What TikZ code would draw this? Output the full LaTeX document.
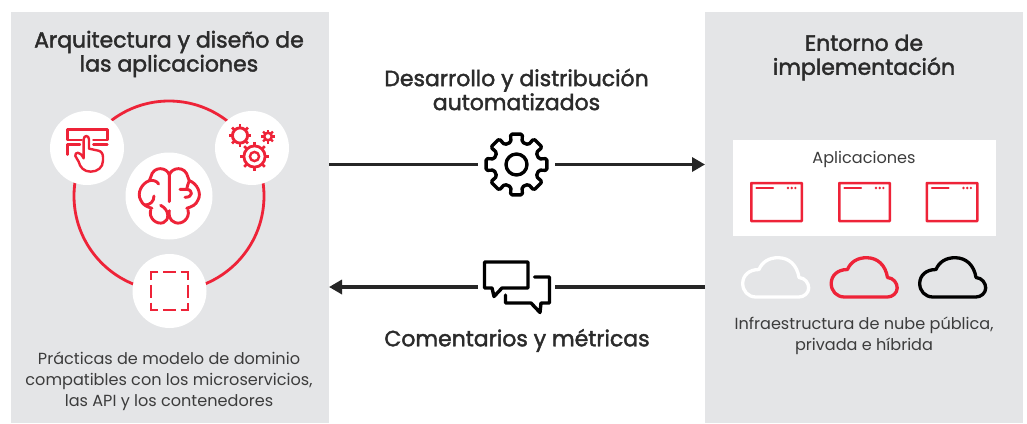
\documentclass[tikz,border=0pt]{standalone}
\usepackage{fontspec}
\usetikzlibrary{arrows.meta,calc}
\setmainfont{Poppins}
\newfontfamily\headf[FakeBold=1.9]{Poppins}
\definecolor{rhred}{HTML}{EE2338}
\definecolor{panelgray}{HTML}{E4E5E7}
\definecolor{headink}{HTML}{2B2B2B}
\definecolor{bodyink}{HTML}{3C3C3C}
\tikzset{
  panel/.style={fill=panelgray,draw=none,minimum width=318pt,minimum height=411pt,inner sep=0pt,outer sep=0pt},
  disc/.style={circle,fill=white,draw=none,inner sep=0pt,outer sep=0pt},
  hub/.style={circle,draw=none,fill=none,minimum size=77pt,inner sep=0pt,outer sep=0pt},
  head/.style={text=headink,align=center,inner sep=0pt,font=\headf\fontsize{22}{24}\selectfont},
  body/.style={text=bodyink,align=center,inner sep=0pt,font=\fontsize{16.1}{21}\selectfont},
  flow/.style={line width=3.4pt,draw=black!85},
  flowtip/.style={flow,-{Triangle[length=13pt,width=14pt]}},
  redicon/.style={draw=rhred,line width=2.4pt,line cap=round,line join=round,fill=none},
  blackicon/.style={draw=black,line width=3.4pt,line cap=round,line join=round,fill=none},
  winbox/.style={draw=rhred,line width=2.5pt,fill=white,minimum width=50.5pt,minimum height=38pt,inner sep=0pt,rounded corners=0.4pt},
  cloud/.pic={
    \draw[line width=3.3pt,line join=round,draw=#1] (15,41) .. controls (7,41) and (1.7,35) .. (1.7,27.5)
      .. controls (1.7,19.5) and (8,13.5) .. (18,13.5)
      .. controls (21,6) and (28,1.7) .. (37,1.7)
      .. controls (48,1.7) and (56,9) .. (58,21.5)
      .. controls (64,22) and (67.7,27) .. (67.7,32)
      .. controls (67.7,37) and (63,41) .. (58,41) -- cycle;
  },
  winmarks/.pic={
    \draw[rhred,line width=2.4pt,line cap=round] (-20,-14) -- (-3.5,-14);
    \fill[rhred] (11.5,-14) circle (1.3) (15.2,-14) circle (1.3) (18.9,-14) circle (1.3);
  }
}
\begin{document}
\begin{tikzpicture}[x=1pt,y=-1pt]
\useasboundingbox (0,0) rectangle (1027,423);
\fill[white] (0,0) rectangle (1027,423);

\node[panel,anchor=north west] (lp) at (11,12) {};
\node[panel,anchor=north west] (rp) at (705,12) {};

\node[head] (lt) at (169,54) {Arquitectura y diseño de\\las aplicaciones};
\node[head] (rt) at (864,57.5) {Entorno de\\implementación};
\node[head] (dt) at (516.5,89.5) {Desarrollo y distribución\\automatizados};
\node[head] (ct) at (517,340.5) {Comentarios y métricas};

% ring and discs
\coordinate (ringc) at (169,196);
\draw[rhred,line width=2.8pt] (ringc) circle (95);
\node[disc,minimum size=74pt] (d1) at (87,148) {};
\node[disc,minimum size=74pt] (d2) at (252,148) {};
\node[disc,minimum size=87pt] (d3) at (ringc) {};
\node[disc,minimum size=74pt] (d4) at (169.5,291) {};

% touch icon (zoom coordinates: origin 30,90, scale 1/3)
\begin{scope}[shift={(30,90)},x=0.3333pt,y=-0.3333pt]
  \begin{scope}[redicon]
  \draw (155,150) -- (112,150) -- (112,118) -- (232,118) -- (232,150) -- (190,150);
  \draw (150,163) -- (112,163) -- (112,194);
  \draw (190,163) -- (232,163);
  \draw (161,205) -- (161,148) .. controls (161,135) and (177,135) .. (177,148) -- (177,176)
    -- (205,182) .. controls (215,184) and (219,192) .. (219,202) -- (219,212)
    .. controls (219,232) and (203,245) .. (182,245) .. controls (162,245) and (150,232) .. (146,215)
    -- (136,198) .. controls (134,186) and (150,182) .. (161,205);
  \end{scope}
  % brain
  \begin{scope}[redicon,line width=2.9pt]
    \draw (418,335) -- (418,255) .. controls (412,232) and (370,225) .. (362,262) -- (358,272)
       .. controls (335,280) and (320,310) .. (332,330) .. controls (338,345) and (350,350) .. (366,355);
    \draw (362,360) .. controls (355,385) and (380,405) .. (400,398) .. controls (418,392) and (420,360) .. (392,346);
    \draw (358,272) .. controls (368,270) and (380,272) .. (386,282);
    \draw (372,318) .. controls (372,335) and (360,345) .. (345,345);
    \draw (418,255) .. controls (424,232) and (466,225) .. (474,262) -- (478,272)
       .. controls (501,280) and (516,310) .. (504,330) .. controls (498,345) and (486,350) .. (470,355);
    \draw (474,360) .. controls (481,385) and (456,405) .. (436,398) .. controls (418,392) and (416,375) .. (418,362);
    \draw (450,298) -- (470,298) .. controls (490,300) and (490,322) .. (465,322);
    \draw (478,272) .. controls (474,280) and (472,290) .. (470,298);
  \end{scope}
  % dashed square
  \begin{scope}[rhred,line width=2.1pt]
    \draw (385,546) -- (363,546) -- (363,570);
    \draw (400,546) -- (437,546);
    \draw (452,546) -- (474,546) -- (474,570);
    \draw (363,585) -- (363,625);
    \draw (474,585) -- (474,625);
    \draw (363,638) -- (363,660) -- (385,660);
    \draw (400,660) -- (437,660);
    \draw (452,660) -- (474,660) -- (474,638);
  \end{scope}
\end{scope}

% small gears
\draw[rhred,line width=2.9pt] (240,135.5) circle (7.6);
\foreach \ang in {0,45,...,315} \draw[rhred,line width=2.6pt] (240,135.5) ++(\ang:8) -- ++(\ang:3.2);
\draw[rhred,line width=2.6pt] (268,136.5) circle (3.8);
\foreach \ang in {0,45,...,315} \draw[rhred,line width=2.2pt] (268,136.5) ++(\ang:4) -- ++(\ang:3);
\draw[rhred,line width=2.8pt] (254.5,156.5) circle (10.6);
\draw[rhred,line width=2.4pt] (254.5,156.5) circle (4.6);
\foreach \ang in {0,45,...,315} \draw[rhred,line width=2.6pt] (254.5,156.5) ++(\ang:11) -- ++(\ang:3.6);

% hubs on the arrows
\node[hub] (gearhub) at (516.5,164.5) {};
\node[hub] (chathub) at (516.5,287) {};
\draw[flow] (lp.east |- gearhub) -- (gearhub);
\draw[flowtip] (gearhub) -- (rp.west |- gearhub);
\draw[flow] (rp.west |- chathub) -- (chathub);
\draw[flowtip] (chathub) -- (lp.east |- chathub);
\fill[white] (gearhub) circle (38.2);
\fill[white] (chathub) circle (38.2);

% big gear
\draw[blackicon,rounded corners=1.6pt]
  ($(gearhub)+(-104:23)$)
  \foreach \a in {0,45,...,315} {
    -- ($(gearhub)+(\a-90-14:23)$) -- ($(gearhub)+(\a-90-11:31)$) -- ($(gearhub)+(\a-90+11:31)$) -- ($(gearhub)+(\a-90+14:23)$)
  } -- cycle;
\draw[blackicon] (gearhub) circle (10.5);

% chat bubbles
\draw[blackicon] (528,287.5) -- (528,262) -- (484.5,262) -- (484.5,288) -- (492,288) -- (494,296.5) -- (502,288) -- (528,288) ;
\draw[blackicon] (534.5,277) -- (549.5,277) -- (549.5,303) -- (541,303) -- (540,312.5) -- (531,303) -- (505.5,303) -- (505.5,295);

% right side
\node[draw=none,fill=white,minimum width=263pt,minimum height=96pt,inner sep=0pt,anchor=north west] (appbox) at (733,140) {};
\node[body] (applab) at (864,159.5) {Aplicaciones};
\node[winbox] (w1) at (776.5,202) {};
\node[winbox] (w2) at (864.5,202) {};
\node[winbox] (w3) at (952,202) {};
\pic at (w1) {winmarks};
\pic at (w2) {winmarks};
\pic at (w3) {winmarks};
\pic at (741,256) {cloud=white};
\pic at (829.5,256) {cloud=rhred};
\pic at (918,256) {cloud=black};

\node[body] (infra) at (864,336) {Infraestructura de nube pública,\\privada e híbrida};
\node[body] (prac) at (169,381.5) {Prácticas de modelo de dominio\\compatibles con los microservicios,\\las API y los contenedores};
\end{tikzpicture}
\end{document}
